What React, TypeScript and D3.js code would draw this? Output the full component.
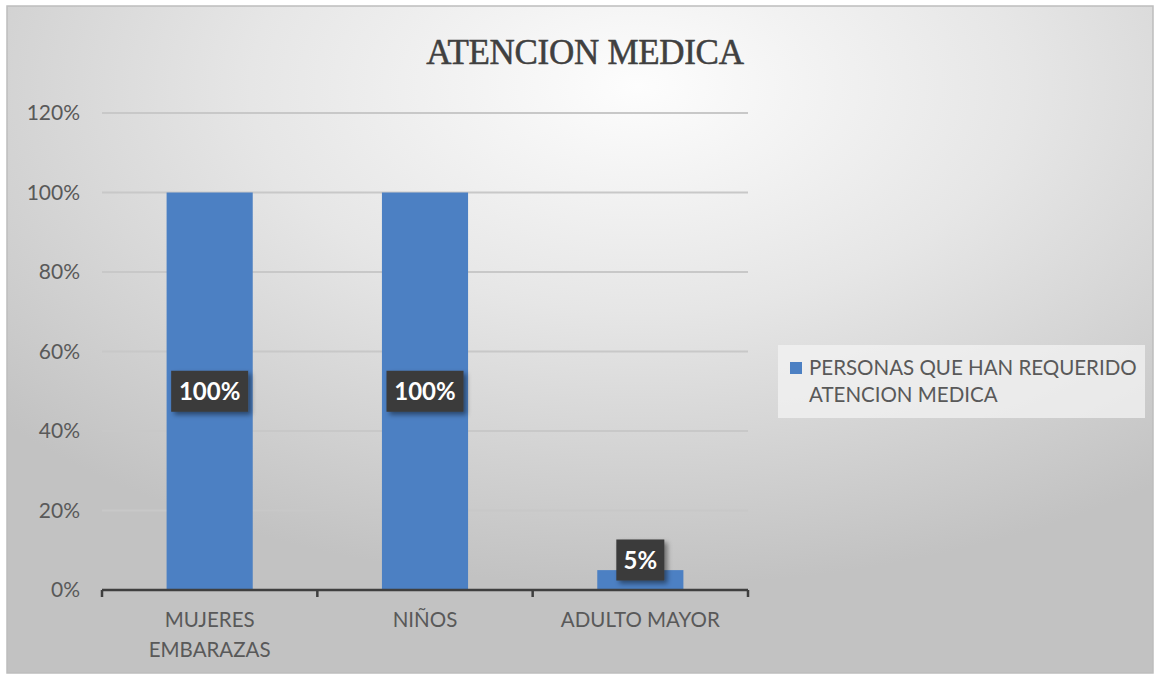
import React from "react";
import * as d3 from "d3";

const categories: string[][] = [["MUJERES", "EMBARAZAS"], ["NIÑOS"], ["ADULTO MAYOR"]];
const values: number[] = [1.0, 1.0, 0.05];
const valueLabels: string[] = ["100%", "100%", "5%"];
const yTicks: number[] = [0, 0.2, 0.4, 0.6, 0.8, 1.0, 1.2];
const title = "ATENCION MEDICA";
const legendLines: string[] = ["PERSONAS QUE HAN REQUERIDO", "ATENCION MEDICA"];

const W = 1154;
const H = 675;
const plot = { left: 102, right: 748, top: 113, bottom: 590 };

export default function App() {
  const x = d3
    .scaleBand<number>()
    .domain(categories.map((_, i) => i))
    .range([plot.left, plot.right])
    .paddingInner(0.6)
    .paddingOuter(0.3);
  const y = d3.scaleLinear().domain([0, 1.2]).range([plot.bottom, plot.top]);
  const fmt = d3.format(".0%");
  const step = (plot.right - plot.left) / categories.length;
  const boundaries = d3.range(categories.length + 1).map((i) => plot.left + i * step);
  const font = "Lato, 'Open Sans', sans-serif";

  return (
    <svg
      width={W}
      height={H}
      style={{ position: "absolute", left: 0, top: 0, background: "#fff" }}
    >
      <defs>
        <radialGradient id="bg" cx="0.55" cy="0.12" r="0.75" fx="0.55" fy="0.12">
          <stop offset="0" stopColor="#fdfdfd" />
          <stop offset="0.45" stopColor="#e6e6e6" />
          <stop offset="1" stopColor="#c2c2c2" />
        </radialGradient>
        <filter id="shadow" x="-20%" y="-20%" width="150%" height="150%">
          <feDropShadow dx="3" dy="3" stdDeviation="2.5" floodColor="#000" floodOpacity="0.45" />
        </filter>
      </defs>
      <rect x={7} y={6} width={1146} height={667} fill="url(#bg)" stroke="#bdbdbd" strokeWidth={1.5} />

      <text
        x={585}
        y={64}
        textAnchor="middle"
        fontFamily="'Liberation Serif', 'DejaVu Serif', serif"
        fontSize={35}
        fill="#404040"
        stroke="#404040"
        strokeWidth={0.5}
        letterSpacing={-0.3}
      >
        {title}
      </text>

      {yTicks.map((t) => (
        <g key={t}>
          {t > 0 && (
            <line x1={plot.left} x2={plot.right} y1={y(t)} y2={y(t)} stroke="#c8c8c8" strokeWidth={2} />
          )}
          <text
            x={80}
            y={y(t)}
            dy="0.35em"
            textAnchor="end"
            fontFamily={font}
            fontSize={21}
            fill="#595959"
          >
            {fmt(t)}
          </text>
        </g>
      ))}

      {values.map((v, i) => (
        <rect
          key={i}
          x={x(i)}
          y={y(v)}
          width={x.bandwidth()}
          height={y(0) - y(v)}
          fill="#4c80c3"
        />
      ))}

      <line x1={plot.left} x2={plot.right} y1={y(0)} y2={y(0)} stroke="#3f3f3f" strokeWidth={2.5} />
      {boundaries.map((bx, i) => (
        <line key={i} x1={bx} x2={bx} y1={y(0)} y2={y(0) + 7} stroke="#3f3f3f" strokeWidth={2.5} />
      ))}

      {categories.map((lines, i) => (
        <text
          key={i}
          x={(x(i) as number) + x.bandwidth() / 2}
          y={627}
          textAnchor="middle"
          fontFamily={font}
          fontSize={20.5}
          fill="#595959"
        >
          {lines.map((l, j) => (
            <tspan key={j} x={(x(i) as number) + x.bandwidth() / 2} dy={j === 0 ? 0 : 30}>
              {l}
            </tspan>
          ))}
        </text>
      ))}

      {values.map((v, i) => {
        const cx = (x(i) as number) + x.bandwidth() / 2;
        const cy = Math.min(y(v / 2), y(0) - 30);
        const label = valueLabels[i];
        const bw = label.length * 14.5 + 19;
        const bh = 41;
        return (
          <g key={i}>
            <rect
              x={cx - bw / 2}
              y={cy - bh / 2}
              width={bw}
              height={bh}
              fill="#3b3b3b"
              filter="url(#shadow)"
            />
            <text
              x={cx}
              y={cy}
              dy="0.36em"
              textAnchor="middle"
              fontFamily={font}
              fontWeight={700}
              fontSize={24}
              fill="#ffffff"
            >
              {label}
            </text>
          </g>
        );
      })}

      <rect x={778} y={345} width={367} height={73} fill="#f3f3f3" fillOpacity={0.75} />
      <rect x={790} y={362} width={12} height={12} fill="#4c80c3" />
      {legendLines.map((l, j) => (
        <text
          key={j}
          x={809}
          y={375 + j * 27}
          fontFamily={font}
          fontSize={20.5}
          fill="#595959"
        >
          {l}
        </text>
      ))}
    </svg>
  );
}
